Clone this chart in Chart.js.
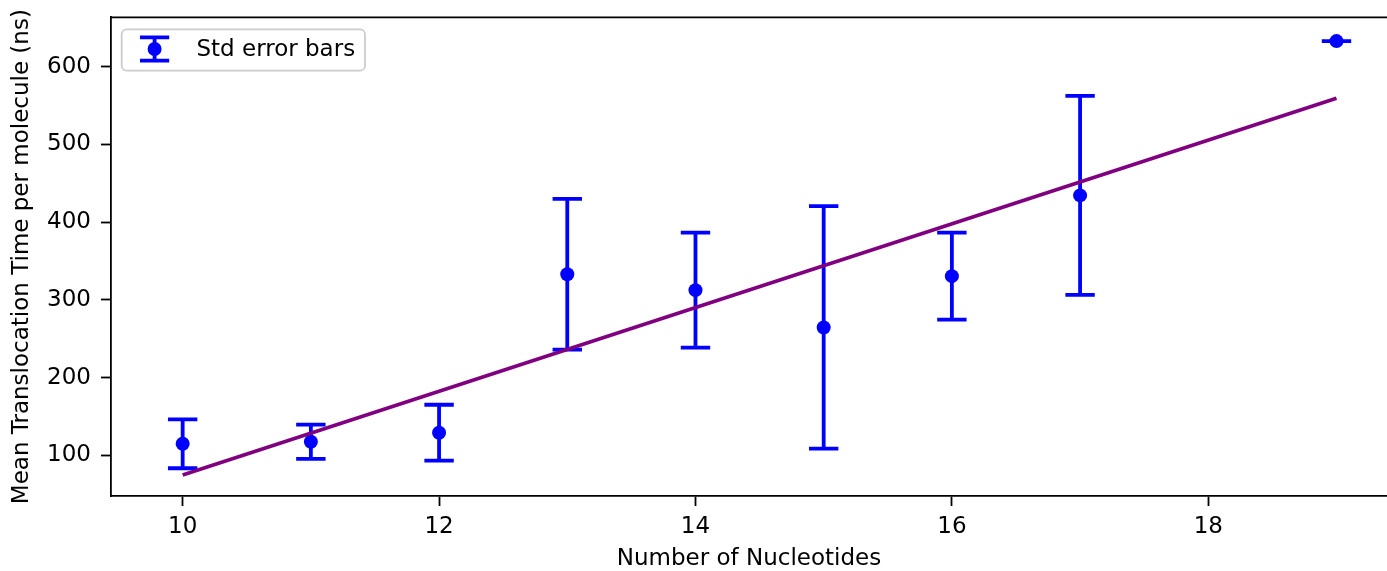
<!DOCTYPE html>
<html>
<head>
<meta charset="utf-8">
<script src="https://cdn.jsdelivr.net/npm/chart.js@4/dist/chart.umd.min.js"></script>
<style>
  html, body { margin: 0; padding: 0; background: #fff; overflow: hidden; }
  #wrap { width: 1387px; height: 571px; }
</style>
</head>
<body>
<div id="wrap"><canvas id="c" width="1387" height="571"></canvas></div>
<script>
// ---- data ----
const nucleotides = [10, 11, 12, 13, 14, 15, 16, 17, 19];
const meanTime    = [114.8, 117.5, 129, 333, 312.5, 264.5, 330.5, 434.4, 633];
const stdError    = [31.5, 22, 36, 97, 74, 156, 56, 128, 0];
const fitX = [10, 19];
const fitY = [74.7, 559.3];
const xTicks = [10, 12, 14, 16, 18];
const yTicks = [100, 200, 300, 400, 500, 600];
const seriesLabel = 'Std error bars';
const xTitle = 'Number of Nucleotides';
const yTitle = 'Mean Translocation Time per molecule (ns)';

const BLUE = '#0000ff';
const PURPLE = '#800080';
const FONT = "'DejaVu Sans', sans-serif";
const FS = 23;

const errorBarPlugin = {
  id: 'errorBars',
  beforeDatasetsDraw(chart) {
    const {ctx, scales: {x, y}} = chart;
    ctx.save();
    ctx.strokeStyle = BLUE;
    ctx.lineWidth = 3.8;
    ctx.lineCap = 'butt';
    nucleotides.forEach((n, i) => {
      const px = x.getPixelForValue(n);
      const top = y.getPixelForValue(meanTime[i] + stdError[i]);
      const bot = y.getPixelForValue(meanTime[i] - stdError[i]);
      const cap = 14.7;
      ctx.beginPath();
      ctx.moveTo(px, top); ctx.lineTo(px, bot);
      ctx.moveTo(px - cap, top); ctx.lineTo(px + cap, top);
      ctx.moveTo(px - cap, bot); ctx.lineTo(px + cap, bot);
      ctx.stroke();
    });
    ctx.restore();
  }
};

const framePlugin = {
  id: 'frame',
  afterDraw(chart) {
    const {ctx, chartArea: a} = chart;
    ctx.save();
    ctx.strokeStyle = '#000';
    ctx.lineWidth = 1.8;
    ctx.beginPath();
    ctx.moveTo(a.left - 0.9, a.top);
    ctx.lineTo(a.right + 2, a.top);
    ctx.stroke();
    // legend
    const bx = 121.7, by = 29.3, bw = 243.3, bh = 41.4, r = 5;
    ctx.beginPath();
    ctx.roundRect(bx, by, bw, bh, r);
    ctx.fillStyle = 'rgba(255,255,255,0.8)';
    ctx.fill();
    ctx.strokeStyle = '#cccccc';
    ctx.lineWidth = 1.8;
    ctx.stroke();
    const cx = 154.6, cy = 49, half = 11.7, cap = 14.6;
    ctx.strokeStyle = BLUE;
    ctx.lineWidth = 3.8;
    ctx.beginPath();
    ctx.moveTo(cx, cy - half); ctx.lineTo(cx, cy + half);
    ctx.moveTo(cx - cap, cy - half); ctx.lineTo(cx + cap, cy - half);
    ctx.moveTo(cx - cap, cy + half); ctx.lineTo(cx + cap, cy + half);
    ctx.stroke();
    ctx.fillStyle = BLUE;
    ctx.beginPath(); ctx.arc(cx, cy, 7, 0, Math.PI * 2); ctx.fill();
    ctx.fillStyle = '#000';
    ctx.font = FS + 'px ' + FONT;
    ctx.textBaseline = 'middle';
    ctx.textAlign = 'left';
    ctx.fillText(chart.data.datasets[0].label, 196.5, 50);
    ctx.restore();
  }
};

function zeroPad(s) { s.paddingTop = 0; s.paddingBottom = 0; s.paddingLeft = 0; s.paddingRight = 0; }

new Chart(document.getElementById('c'), {
  data: {
    datasets: [
      {
        type: 'scatter',
        label: seriesLabel,
        data: nucleotides.map((n, i) => ({x: n, y: meanTime[i]})),
        backgroundColor: BLUE,
        borderWidth: 0,
        pointRadius: 7,
        order: 2
      },
      {
        type: 'line',
        label: 'fit',
        data: fitX.map((v, i) => ({x: v, y: fitY[i]})),
        borderColor: PURPLE,
        borderWidth: 3.7,
        pointRadius: 0,
        fill: false,
        order: 1
      }
    ]
  },
  options: {
    responsive: false,
    animation: false,
    events: [],
    layout: { autoPadding: false, padding: { top: 17.3, right: 0, left: 0, bottom: 0 } },
    plugins: { legend: { display: false }, tooltip: { enabled: false } },
    scales: {
      x: {
        type: 'linear',
        min: 9.441,
        max: 19.394,
        afterBuildTicks(s) { s.ticks = xTicks.map(v => ({value: v})); },
        afterFit(s) { s.height = 75; zeroPad(s); },
        ticks: { font: { family: FONT, size: FS }, color: '#000', padding: 7, maxRotation: 0,
                 callback: v => String(v) },
        grid: { display: true, drawOnChartArea: false, drawTicks: true, tickLength: 10,
                tickWidth: 1.8, tickColor: '#000', color: '#000' },
        border: { display: true, color: '#000', width: 1.8 },
        title: { display: true, text: xTitle, color: '#000',
                 font: { family: FONT, size: FS }, padding: { top: 0, bottom: -2 } }
      },
      y: {
        type: 'linear',
        min: 47.6,
        max: 663.6,
        afterBuildTicks(s) { s.ticks = yTicks.map(v => ({value: v})); },
        afterFit(s) { s.width = 111; zeroPad(s); },
        ticks: { font: { family: FONT, size: FS }, color: '#000', padding: 10,
                 callback: v => String(v) },
        grid: { display: true, drawOnChartArea: false, drawTicks: true, tickLength: 10,
                tickWidth: 1.8, tickColor: '#000', color: '#000' },
        border: { display: true, color: '#000', width: 1.8 },
        title: { display: true, text: yTitle, color: '#000',
                 font: { family: FONT, size: FS }, padding: { top: 8, bottom: 0 } }
      }
    }
  },
  plugins: [errorBarPlugin, framePlugin]
});
</script>
</body>
</html>
